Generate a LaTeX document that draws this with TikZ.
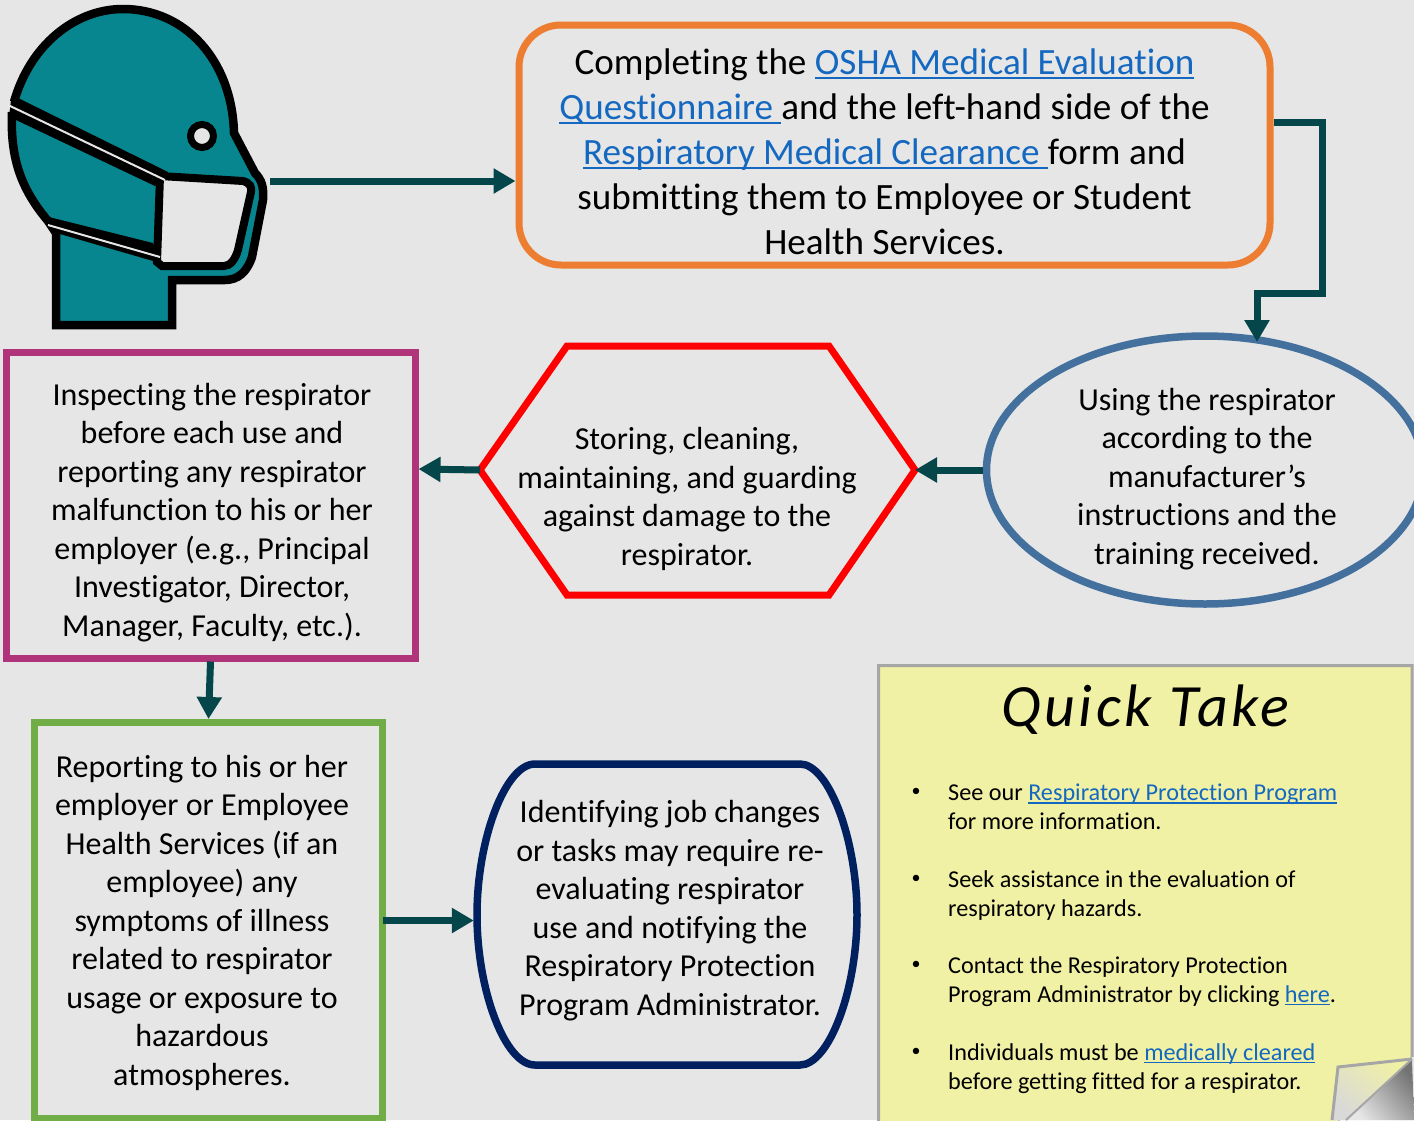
\documentclass[tikz,border=0pt]{standalone}
\usepackage{fontspec}
\setmainfont[RawFeature=-liga]{Carlito}
\newfontfamily\quickfont[LetterSpace=6,RawFeature=-liga]{Carlito}
\usepackage{tikz}
\usetikzlibrary{arrows.meta,shapes.geometric}
\definecolor{pagegray}{HTML}{E6E6E6}
\definecolor{headteal}{HTML}{08868F}
\definecolor{arrowteal}{HTML}{04464A}
\definecolor{linkblue}{HTML}{1468C0}
\definecolor{noteyellow}{HTML}{F0F1A4}
\definecolor{orangeline}{HTML}{ED7D31}
\newcommand{\lnk}[1]{\textcolor{linkblue}{\sbox0{#1}\rlap{\rule[-0.11em]{\wd0}{0.06em}}\box0}}

\begin{document}
\begin{tikzpicture}[x=1pt, y=-1pt,
    flow/.style={draw=arrowteal, line width=7pt, -{Triangle[length=22pt, width=24pt]}},
    bigtext/.style={align=center, inner sep=0pt, font=\fontsize{37.1}{45}\selectfont},
    bodytext/.style={align=center, inner sep=0pt, font=\fontsize{32}{38.5}\selectfont},
    notetext/.style={align=left, inner sep=0pt, anchor=west, font=\fontsize{24.2}{28.7}\selectfont},
    notedot/.style={inner sep=0pt, font=\fontsize{18}{20}\selectfont}]
    \useasboundingbox (0, 0) rectangle (1414, 1120);
    \fill [pagegray] (0, 0) rectangle (1414, 1120);

    \filldraw [fill=headteal, draw=black, line width=8.5pt, miter limit=4] (14, 102) .. controls (30, 45) and (75, 9) .. (123, 9) .. controls (185, 9) and (232, 60) .. (234, 133) -- (255, 173) .. controls (262, 180) and (264, 188) .. (263, 200) -- (252, 257) .. controls (247, 272) and (238, 280) .. (225, 280) -- (172, 280) -- (172, 325) -- (56, 325) -- (56, 233) -- (48, 221) .. controls (22, 190) and (10, 160) .. (12, 112);
    \fill [black] (18, 98) -- (168, 172) -- (155, 186) -- (16, 120) -- (9, 117) -- (11, 100) -- cycle;
    \fill [black] (49, 217) -- (153, 243) -- (160, 263) -- (53, 232) -- cycle;
    \filldraw [fill=pagegray, draw=black, line width=8pt] (160, 176) -- (243, 181) .. controls (250, 183) and (252, 187) .. (251, 192) -- (238, 250) .. controls (235, 260) and (230, 266) .. (224, 266) -- (162, 266) -- (157, 262) -- cycle;
    \draw [pagegray, line width=2pt] (8, 105) -- (165, 180);
    \draw [pagegray, line width=2pt] (48, 225) -- (160, 257);
    \filldraw [fill=pagegray, draw=black, line width=7pt] (202, 136) circle (11.5);
    \coordinate (headtip) at (270, 181);

    \node [draw=orangeline, rounded corners=42pt, line width=7pt, minimum width=751pt, minimum height=240pt] (orangebox) at (894.5, 145) {};
    \node [bigtext, xshift=-10pt, yshift=-7pt] (orangetxt) at (orangebox) {Completing the \lnk{OSHA Medical Evaluation}\\
    \lnk{Questionnaire\ }and the left-hand side of the\\
    \lnk{Respiratory Medical Clearance\ }form and\\
    submitting them to Employee or Student\\
    Health Services.};

    \node [ellipse, draw={rgb,255:red,68;green,112;blue,157}, line width=7.5pt, minimum width=437pt, minimum height=268pt, inner sep=0pt] (bluebox) at (1205, 470) {};
    \coordinate (bluetop) at (1257, 342);
    \node [bodytext, xshift=2pt, yshift=-9pt] (bluetxt) at (bluebox) {Using the respirator\\
    according to the\\
    manufacturer’s\\
    instructions and the\\
    training received.};

    \coordinate (hexw) at (480, 470);
    \coordinate (hexe) at (915, 470);
    \draw [red, line width=7pt] (hexw) -- (567, 346) -- (829, 346) -- (hexe) -- (829, 595) -- (567, 595) -- cycle;
    \node [bodytext] (hextxt) at (687, 499) {Storing, cleaning,\\
    maintaining, and guarding\\
    against damage to the\\
    respirator.};

    \node [draw={rgb,255:red,176;green,52;blue,121}, line width=7pt, minimum width=409pt, minimum height=306pt] (purplebox) at (210.5, 505) {};
    \node [bodytext, xshift=1.5pt, yshift=-7.5pt] (purpletxt) at (purplebox) {Inspecting the respirator\\
    before each use and\\
    reporting any respirator\\
    malfunction to his or her\\
    employer (e.g., Principal\\
    Investigator, Director,\\
    Manager, Faculty, etc.).};

    \node [draw={rgb,255:red,112;green,173;blue,71}, line width=7pt, minimum width=348pt, minimum height=396pt] (greenbox) at (208.5, 920.5) {};
    \node [bodytext, xshift=-6.5pt, yshift=-2pt] (greentxt) at (greenbox) {Reporting to his or her\\
    employer or Employee\\
    Health Services (if an\\
    employee) any\\
    symptoms of illness\\
    related to respirator\\
    usage or exposure to\\
    hazardous\\
    atmospheres.};

    \node [minimum width=386pt, minimum height=308pt, inner sep=0pt] (navybox) at (667, 915) {};
    \draw [draw={rgb,255:red,0;green,32;blue,96}, line width=7.5pt] (535, 764) -- (800, 764) .. controls (829, 764) and (857, 840) .. (857, 915) .. controls (857, 990) and (829, 1065) .. (800, 1065) -- (535, 1065) .. controls (505, 1065) and (477, 990) .. (477, 915) .. controls (477, 840) and (505, 764) .. cycle;
    \node [bodytext, xshift=3pt, yshift=4.5pt] (navytxt) at (navybox) {Identifying job changes\\
    or tasks may require re-\\
    evaluating respirator\\
    use and notifying the\\
    Respiratory Protection\\
    Program Administrator.};

    \filldraw [fill=noteyellow, draw=black!35, line width=3pt] (1338, 1120) -- (1412, 1058) -- (1412, 665.5) -- (878.5, 665.5) -- (878.5, 1124) -- (1338, 1124);
    \node [inner sep=0pt, font=\quickfont\itshape\fontsize{60}{70}\selectfont] (quicktake) at (1145, 710) {Quick Take};
    \node [notedot] (dota) at (916, 792) {\textbullet};
    \node [notetext] (notea) at (948, 807) {See our \lnk{Respiratory Protection Program}\\
    for more information.};
    \node [notedot] (dotb) at (916, 879) {\textbullet};
    \node [notetext] (noteb) at (948, 895.5) {Seek assistance in the evaluation of\\
    respiratory hazards.};
    \node [notedot] (dotc) at (916, 965) {\textbullet};
    \node [notetext] (notec) at (948, 982) {Contact the Respiratory Protection\\
    Program Administrator by clicking \lnk{here}.};
    \node [notedot] (dotd) at (916, 1052) {\textbullet};
    \node [notetext] (noted) at (948, 1068.5) {Individuals must be \lnk{medically cleared}\\
    before getting fitted for a respirator.};

    \fill [pagegray] (1332, 1120) -- (1412, 1057) -- (1414, 1057) -- (1414, 1120) -- cycle;
    \path [shade, left color=noteyellow, right color=black!15, shading angle=-40] (1338, 1067) -- (1412, 1059) -- (1346, 1120) -- (1332, 1120) -- cycle;
    \path [shade, top color=black!55, bottom color=pagegray, shading angle=-50] (1412, 1059) -- (1414, 1120) -- (1346, 1120) -- cycle;
    \draw [black!35, line width=3pt] (1332, 1120) -- (1338, 1067) -- (1412, 1059);
    \draw [black!35, line width=2pt] (1346, 1120) -- (1412, 1059);

    \draw [flow] (headtip) to (orangebox.west |- headtip);
    \draw [flow] ([yshift=23pt]orangebox.east) -| (1322, 293) -| (bluetop);
    \draw [flow] (bluebox.west) to (hexe);
    \draw [flow] (hexw) to ([yshift=36pt]purplebox.east);
    \draw [flow] (purplebox.south) to (greenbox.north);
    \draw [flow] ([xshift=-3pt]greenbox.east) to (navybox.west |- greenbox.east);
\end{tikzpicture}
\end{document}
